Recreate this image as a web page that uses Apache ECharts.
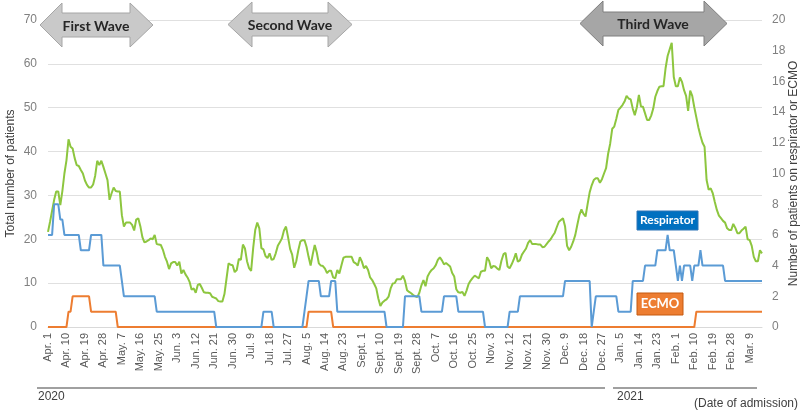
<!DOCTYPE html>
<html>
<head>
<meta charset="utf-8">
<script src="https://cdn.jsdelivr.net/npm/echarts@6/dist/echarts.min.js"></script>
<style>
  html, body { margin: 0; padding: 0; background: #fff; }
  #chart { width: 800px; height: 410px; }
</style>
</head>
<body>
<div id="chart"></div>
<script>
// months covered, Apr. 1 2020 .. Mar. 15 2021
const monthNames = ['Apr.', 'May.', 'Jun.', 'Jul.', 'Aug.', 'Sept.', 'Oct.', 'Nov.', 'Dec.', 'Jan.', 'Feb.', 'Mar.'];
const monthDays = [30, 31, 30, 31, 31, 30, 31, 30, 31, 31, 28, 15];

const dates = [];
monthNames.forEach(function (m, i) {
  for (let d = 1; d <= monthDays[i]; d++) dates.push(m + ' ' + d);
});

// total number of patients (left axis), one value per day
const totalPatients = [
  21.7, 24, 26.5, 29, 30.9, 30.9, 27.8, 31, 35, 38,
  42.8, 41.1, 40.7, 38.5, 36.9, 36.7, 35.8, 35, 33.4, 32.4,
  31.8, 31.8, 32.5, 34.5, 37.9, 36.9, 37.9, 36.5, 35, 33.5,
  29, 30.5, 31.8, 31, 30.9, 30.9, 25.5, 22.9, 23.8, 23.8,
  23.8, 23.3, 22, 24.5, 24.8, 23, 20.5, 19.3, 19.5, 19.8,
  20.2, 20, 21, 18.9, 18.8, 18.7, 17.6, 16, 14.9, 13.2,
  14.5, 14.8, 14.8, 14, 14.9, 12.2, 13, 12, 11.3, 10.3,
  8.5, 8.8, 7.8, 9.6, 9.8, 8.9, 7.9, 7.8, 7.8, 7.7,
  6.9, 6.7, 6.5, 5.9, 5.8, 5.8, 7.5, 11, 14.5, 14.2,
  14.1, 12.5, 13, 15.5, 15.3, 18.8, 17.9, 15, 13.4, 12.8,
  18, 22.1, 23.8, 22.5, 18, 17.7, 16.2, 15.7, 16.8, 15.3,
  15.5, 16.8, 18.5, 19.3, 20.2, 22, 22.9, 20.5, 17.8, 16.5,
  13.5, 15, 17.5, 19.5, 19.8, 19.8, 18.3, 16, 14, 16.5,
  18.7, 17, 14.5, 14, 13.9, 13.3, 12.3, 12.8, 12.8, 11.3,
  11.1, 13, 12.2, 14, 15.8, 16, 16, 16, 16, 14.8,
  14.5, 14, 15.9, 14.9, 13.4, 13.9, 13, 11.3, 10.7, 9.8,
  8.8, 6.5, 4.8, 5.6, 6, 6.3, 6.9, 8.8, 9.9, 10,
  10.9, 10.9, 10.9, 11.7, 10.5, 8.4, 8, 7.7, 7.3, 7,
  6.8, 7.8, 9.5, 10.7, 9.3, 11.5, 12.4, 13, 13.4, 14.1,
  15.3, 15.9, 15.2, 14.3, 14.6, 14.2, 13.8, 12.3, 11.5, 8.6,
  7.9, 7.8, 8, 7.1, 8.3, 9.8, 10.6, 11.2, 11.7, 11.4,
  11.1, 12.6, 12.8, 12.8, 15.9, 15.1, 13.4, 13.9, 13.8, 13.3,
  13, 15.1, 16.6, 16.9, 13.8, 13.4, 14.3, 15.4, 16.8, 14.9,
  15.2, 16.5, 17.2, 17.9, 19.2, 19.8, 18.9, 18.9, 18.9, 18.8,
  18.8, 18.2, 18.3, 18.9, 19.5, 20, 20.8, 21.5, 22.8, 24,
  24.4, 24.8, 23, 18.5, 17.5, 18.3, 19.5, 21, 23.3, 25.5,
  26.8, 25.8, 25.2, 28, 30.7, 32.3, 33.5, 33.9, 33.9, 32.9,
  33.7, 35, 36.2, 39.5, 41.8, 45.2, 45.7, 47.5, 49.5, 50,
  50.6, 51.4, 52.7, 52.1, 51.9, 49.8, 48.3, 50.1, 52.9, 50.3,
  50.2, 48.7, 47.2, 47.2, 48.2, 49.8, 52.5, 53.8, 54.8, 54.9,
  54.9, 59, 61.8, 63.3, 64.8, 57, 54.9, 54.9, 56.9, 55.9,
  54, 52.7, 49.3, 53.9, 52.7, 50.1, 47.8, 45.5, 43.6, 42,
  41.1, 33.5, 31.3, 31.6, 30.5, 28.5, 26.7, 25.4, 24.8, 24.2,
  23.8, 22.5, 22.1, 22.1, 23.5, 22.6, 21.4, 21.4, 22, 22.4,
  22.9, 20, 19.8, 18.5, 16, 15, 15, 17.5, 16.8
];

// patients on respirator (right axis)
const respirator = [
  6, 6, 6, 8, 8, 8, 7, 7, 6, 6,
  6, 6, 6, 6, 6, 6, 5, 5, 5, 5,
  5, 6, 6, 6, 6, 6, 6, 4, 4, 4,
  4, 4, 4, 4, 4, 4, 3, 2, 2, 2,
  2, 2, 2, 2, 2, 2, 2, 2, 2, 2,
  2, 2, 2, 1, 1, 1, 1, 1, 1, 1,
  1, 1, 1, 1, 1, 1, 1, 1, 1, 1,
  1, 1, 1, 1, 1, 1, 1, 1, 1, 1,
  1, 1, 0, 0, 0, 0, 0, 0, 0, 0,
  0, 0, 0, 0, 0, 0, 0, 0, 0, 0,
  0, 0, 0, 0, 0, 1, 1, 1, 1, 1,
  0, 0, 0, 0, 0, 0, 0, 0, 0, 0,
  0, 0, 0, 0, 0, 1, 2, 3, 3, 3,
  3, 3, 3, 2, 2, 2, 2, 2, 3, 3,
  3, 1, 1, 1, 1, 1, 1, 1, 1, 1,
  1, 1, 1, 1, 1, 1, 1, 1, 1, 1,
  1, 1, 1, 1, 1, 0, 0, 0, 0, 0,
  0, 0, 0, 0, 2, 2, 2, 2, 2, 2,
  2, 2, 1, 1, 1, 1, 1, 1, 1, 1,
  1, 1, 1, 2, 2, 2, 2, 2, 2, 2,
  1, 1, 1, 1, 1, 1, 1, 1, 1, 1,
  1, 1, 1, 0, 0, 0, 0, 0, 0, 0,
  0, 0, 0, 0, 0, 1, 1, 1, 1, 1,
  2, 2, 2, 2, 2, 2, 2, 2, 2, 2,
  2, 2, 2, 2, 2, 2, 2, 2, 2, 2,
  2, 2, 3, 3, 3, 3, 3, 3, 3, 3,
  3, 3, 3, 3, 3, 0, 1, 2, 2, 2,
  2, 2, 2, 2, 2, 2, 2, 2, 1, 1,
  1, 1, 1, 1, 1, 3, 3, 3, 3, 3,
  3, 4, 4, 4, 4, 4, 4, 5, 5, 5,
  5, 5, 6, 5, 5, 5, 4, 3, 4, 3,
  4, 4, 4, 4, 3, 4, 4, 4, 5, 4,
  4, 4, 4, 4, 4, 4, 4, 4, 4, 4,
  3, 3, 3, 3, 3, 3, 3, 3, 3, 3,
  3, 3, 3, 3, 3, 3, 3, 3, 3
];

// patients on ECMO (right axis)
const ecmo = [
  0, 0, 0, 0, 0, 0, 0, 0, 0, 0,
  1, 1, 2, 2, 2, 2, 2, 2, 2, 2,
  2, 1, 1, 1, 1, 1, 1, 1, 1, 1,
  1, 1, 1, 1, 0, 0, 0, 0, 0, 0,
  0, 0, 0, 0, 0, 0, 0, 0, 0, 0,
  0, 0, 0, 0, 0, 0, 0, 0, 0, 0,
  0, 0, 0, 0, 0, 0, 0, 0, 0, 0,
  0, 0, 0, 0, 0, 0, 0, 0, 0, 0,
  0, 0, 0, 0, 0, 0, 0, 0, 0, 0,
  0, 0, 0, 0, 0, 0, 0, 0, 0, 0,
  0, 0, 0, 0, 0, 0, 0, 0, 0, 0,
  0, 0, 0, 0, 0, 0, 0, 0, 0, 0,
  0, 0, 0, 0, 0, 0, 0, 1, 1, 1,
  1, 1, 1, 1, 1, 1, 1, 1, 1, 0,
  0, 0, 0, 0, 0, 0, 0, 0, 0, 0,
  0, 0, 0, 0, 0, 0, 0, 0, 0, 0,
  0, 0, 0, 0, 0, 0, 0, 0, 0, 0,
  0, 0, 0, 0, 0, 0, 0, 0, 0, 0,
  0, 0, 0, 0, 0, 0, 0, 0, 0, 0,
  0, 0, 0, 0, 0, 0, 0, 0, 0, 0,
  0, 0, 0, 0, 0, 0, 0, 0, 0, 0,
  0, 0, 0, 0, 0, 0, 0, 0, 0, 0,
  0, 0, 0, 0, 0, 0, 0, 0, 0, 0,
  0, 0, 0, 0, 0, 0, 0, 0, 0, 0,
  0, 0, 0, 0, 0, 0, 0, 0, 0, 0,
  0, 0, 0, 0, 0, 0, 0, 0, 0, 0,
  0, 0, 0, 0, 0, 0, 0, 0, 0, 0,
  0, 0, 0, 0, 0, 0, 0, 0, 0, 0,
  0, 0, 0, 0, 0, 0, 0, 0, 0, 0,
  0, 0, 0, 0, 0, 0, 0, 0, 0, 0,
  0, 0, 0, 0, 0, 0, 0, 0, 0, 0,
  0, 0, 0, 0, 0, 0, 1, 1, 1, 1,
  1, 1, 1, 1, 1, 1, 1, 1, 1, 1,
  1, 1, 1, 1, 1, 1, 1, 1, 1, 1,
  1, 1, 1, 1, 1, 1, 1, 1, 1
];

const waves = ['First Wave', 'Second Wave', 'Third Wave'];

const FONT = '"Liberation Sans", Arial, sans-serif';

function doubleArrow(x0, x1, x2, x3, yt, st, sb, yb, fill, stroke) {
  const yc = (yt + yb) / 2;
  return {
    type: 'polygon',
    shape: { points: [[x0, yc], [x1, yt], [x1, st], [x2, st], [x2, yt], [x3, yc], [x2, yb], [x2, sb], [x1, sb], [x1, yb]] },
    style: { fill: fill, stroke: stroke, lineWidth: 1 },
    z: 10
  };
}

function waveText(x, y, t) {
  return {
    type: 'text', x: x, y: y, z: 11,
    style: { text: t, font: 'bold 14px Lato, "Open Sans", sans-serif', fill: '#262626', align: 'center', verticalAlign: 'middle' }
  };
}

function labelBox(x, y, w, h, t, fill, stroke, size) {
  return {
    type: 'group', z: 12,
    children: [
      { type: 'rect', shape: { x: x, y: y, width: w, height: h }, style: { fill: fill, stroke: stroke, lineWidth: 1 } },
      { type: 'text', x: x + w / 2, y: y + h / 2,
        style: { text: t, font: 'bold ' + size + 'px Lato, "Open Sans", sans-serif', fill: '#fff', align: 'center', verticalAlign: 'middle' } }
    ]
  };
}

const chart = echarts.init(document.getElementById('chart'), null, { renderer: 'canvas' });

chart.setOption({
  animation: false,
  backgroundColor: '#fff',
  grid: { left: 48, right: 38, top: 20, bottom: 83, containLabel: false, outerBoundsMode: 'none' },
  xAxis: {
    type: 'category',
    data: dates,
    boundaryGap: false,
    axisTick: { show: false },
    axisLine: { lineStyle: { color: '#d9d9d9' } },
    axisLabel: { interval: 8, rotate: 90, fontSize: 11, color: '#595959', fontFamily: FONT, margin: 6 }
  },
  yAxis: [
    {
      type: 'value', min: 0, max: 70, interval: 10,
      name: 'Total number of patients', nameLocation: 'middle', nameGap: 31, nameMoveOverlap: false,
      nameTextStyle: { fontSize: 12, color: '#404040', fontFamily: FONT },
      axisLabel: { fontSize: 12, color: '#808080', fontFamily: FONT, margin: 11 },
      splitLine: { lineStyle: { color: '#e0e0e0' } },
      axisLine: { show: false }, axisTick: { show: false }
    },
    {
      type: 'value', min: 0, max: 20, interval: 2,
      name: 'Number of patients on respirator or ECMO', nameLocation: 'middle', nameGap: 26, nameRotate: 90,
      nameMoveOverlap: false,
      nameTextStyle: { fontSize: 12, color: '#404040', fontFamily: FONT },
      axisLabel: { fontSize: 12, color: '#808080', fontFamily: FONT, margin: 10 },
      splitLine: { show: false },
      axisLine: { show: false }, axisTick: { show: false }
    }
  ],
  series: [
    {
      name: 'Total', type: 'line', data: totalPatients, yAxisIndex: 0,
      showSymbol: false, lineStyle: { color: '#8DC63F', width: 2 }, z: 3
    },
    {
      name: 'ECMO', type: 'line', data: ecmo, yAxisIndex: 1,
      showSymbol: false, lineStyle: { color: '#ED7D31', width: 2 }, z: 4
    },
    {
      name: 'Respirator', type: 'line', data: respirator, yAxisIndex: 1,
      showSymbol: false, lineStyle: { color: '#5B9BD5', width: 2 }, z: 5
    }
  ],
  graphic: [
    doubleArrow(40, 62, 130, 153, 3, 13, 37, 47, '#C9C9C9', '#A6A6A6'),
    waveText(96, 26, waves[0]),
    doubleArrow(228, 252, 328, 352, 2, 13, 36, 47, '#C9C9C9', '#A6A6A6'),
    waveText(290, 25, waves[1]),
    doubleArrow(580, 603, 704, 727, 1, 12, 36, 46, '#A6A6A6', '#7F7F7F'),
    waveText(653, 24, waves[2]),
    labelBox(637, 211, 61, 19, 'Respirator', '#0070C0', '#2E75B6', 12),
    labelBox(637, 293, 46, 22, 'ECMO', '#ED7D31', '#C55A11', 13),
    { type: 'line', shape: { x1: 37, y1: 388, x2: 605, y2: 388 }, style: { stroke: '#808080', lineWidth: 1.5 } },
    { type: 'line', shape: { x1: 613, y1: 388, x2: 757, y2: 388 }, style: { stroke: '#808080', lineWidth: 1.5 } },
    { type: 'text', x: 38, y: 397, style: { text: '2020', font: '12px ' + FONT, fill: '#404040', verticalAlign: 'middle' } },
    { type: 'text', x: 617, y: 397, style: { text: '2021', font: '12px ' + FONT, fill: '#404040', verticalAlign: 'middle' } },
    { type: 'text', x: 694, y: 404, style: { text: '(Date of admission)', font: '12px ' + FONT, fill: '#404040', verticalAlign: 'middle' } }
  ]
});
</script>
</body>
</html>
